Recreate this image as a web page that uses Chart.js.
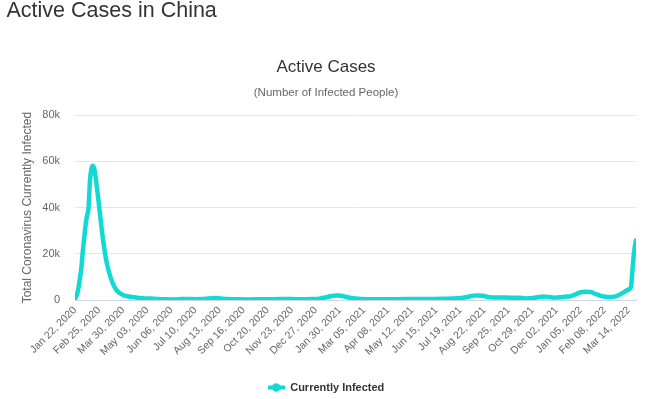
<!DOCTYPE html>
<html>
<head>
<meta charset="utf-8">
<script src="https://cdn.jsdelivr.net/npm/chart.js@4.4.1/dist/chart.umd.min.js"></script>
<style>
  html, body { margin: 0; padding: 0; background: #fff; }
  #page-title {
    position: absolute; left: 6.5px; top: 0;
    margin: 0; font: 400 21.5px/1 'Liberation Sans', Arial, sans-serif;
    color: #333;
  }
  #wrap { position: absolute; left: 0; top: 0; width: 649px; height: 399px; }
</style>
</head>
<body>
<div id="wrap"><canvas id="chart"></canvas></div>
<h1 id="page-title">Active Cases in China</h1>
<script>
// x axis labels, one every 34 days starting Jan 22, 2020
const xTickLabels = [
  'Jan 22, 2020', 'Feb 25, 2020', 'Mar 30, 2020', 'May 03, 2020', 'Jun 06, 2020',
  'Jul 10, 2020', 'Aug 13, 2020', 'Sep 16, 2020', 'Oct 20, 2020', 'Nov 23, 2020',
  'Dec 27, 2020', 'Jan 30, 2021', 'Mar 05, 2021', 'Apr 08, 2021', 'May 12, 2021',
  'Jun 15, 2021', 'Jul 19, 2021', 'Aug 22, 2021', 'Sep 25, 2021', 'Oct 29, 2021',
  'Dec 02, 2021', 'Jan 05, 2022', 'Feb 08, 2022', 'Mar 14, 2022'
];
const tickStep = 34;
const lastDay = 792;

// days since Jan 22, 2020 and active cases
const sampleDays = [
  0, 3, 5, 7, 9, 11, 13, 15, 17, 19, 20, 21, 23, 25, 27, 29, 31, 33, 35, 37,
  39, 41, 43, 46, 50, 54, 58, 63, 68, 74, 80, 88, 95, 105, 115, 125, 140, 150, 160, 170,
  180, 188, 196, 205, 215, 230, 245, 260, 275, 290, 305, 320, 335, 345, 355, 362, 369, 376, 383, 390,
  400, 415, 430, 450, 470, 490, 505, 520, 535, 548, 556, 563, 569, 576, 583, 590, 600, 615, 627, 637,
  647, 655, 662, 669, 676, 686, 694, 700, 707, 714, 721, 728, 735, 742, 749, 756, 763, 770, 777, 782,
  785, 787, 789, 790, 792
];
const activeCases = [
  550, 2500, 5500, 9500, 14000, 21000, 27000, 32500, 36500, 39500, 45000, 51000, 56500, 58100, 57000, 53500, 48500, 43500, 38000, 32500,
  27500, 23000, 19000, 14500, 10000, 6800, 4500, 3000, 2100, 1600, 1300, 1000, 800, 600, 450, 300, 250, 400, 450, 350,
  400, 700, 850, 700, 450, 300, 250, 300, 350, 400, 400, 350, 450, 600, 1200, 1700, 2000, 1800, 1300, 900,
  500, 350, 300, 350, 400, 450, 450, 500, 600, 1000, 1500, 1900, 2000, 1800, 1300, 1100, 1100, 1000, 1000, 700,
  900, 1300, 1500, 1300, 1000, 1200, 1500, 1700, 2500, 3400, 3600, 3500, 2600, 1800, 1400, 1300, 1600, 2500, 3800, 4600,
  5700, 13000, 20000, 22500, 25900
];

const lineColor = '#12d9d4';
const fontFamily = "'Liberation Sans', Arial, sans-serif";

// legend symbol: short thick line with a round marker
const legendIcon = document.createElement('canvas');
legendIcon.width = 17;
legendIcon.height = 9;
const ictx = legendIcon.getContext('2d');
ictx.strokeStyle = lineColor;
ictx.lineWidth = 4;
ictx.beginPath();
ictx.moveTo(0, 4.5);
ictx.lineTo(17, 4.5);
ictx.stroke();
ictx.fillStyle = lineColor;
ictx.beginPath();
ictx.arc(8.5, 4.5, 4.2, 0, Math.PI * 2);
ictx.fill();

Chart.defaults.font.family = fontFamily;

new Chart(document.getElementById('chart'), {
  type: 'line',
  data: {
    datasets: [{
      label: 'Currently Infected',
      data: sampleDays.map((d, i) => ({ x: d, y: activeCases[i] })),
      borderColor: lineColor,
      backgroundColor: lineColor,
      borderWidth: 4.5,
      borderJoinStyle: 'round',
      borderCapStyle: 'round',
      cubicInterpolationMode: 'monotone',
      pointRadius: 0,
      pointHoverRadius: 0,
      pointStyle: legendIcon,
      fill: false,
    }],
  },
  options: {
    responsive: true,
    maintainAspectRatio: false,
    animation: false,
    layout: { padding: { left: 16, right: 13, top: 0, bottom: 5 } },
    plugins: {
      title: {
        display: true,
        text: 'Active Cases',
        color: '#333',
        font: { size: 17, weight: 'normal' },
        padding: { top: 57, bottom: 0 },
      },
      subtitle: {
        display: true,
        text: '(Number of Infected People)',
        color: '#666',
        font: { size: 11.5, weight: 'normal' },
        padding: { top: 9, bottom: 15 },
      },
      legend: {
        position: 'bottom',
        maxHeight: 20,
        labels: {
          usePointStyle: true,
          pointStyleWidth: 17,
          padding: 8,
          color: '#333',
          font: { size: 11, weight: 'bold' },
        },
      },
      tooltip: { enabled: false },
    },
    scales: {
      x: {
        type: 'linear',
        min: 0,
        max: lastDay,
        afterBuildTicks: (scale) => {
          scale.ticks = xTickLabels.map((_, i) => ({ value: i * tickStep }));
        },
        afterFit: (scale) => { scale.height = 74; },
        grid: { display: false, drawTicks: false },
        border: { display: true, color: '#ccd6eb', width: 1 },
        ticks: {
          autoSkip: false,
          minRotation: 45,
          maxRotation: 45,
          padding: 4,
          color: '#666',
          font: { size: 10.5 },
          callback: (value) => xTickLabels[Math.round(value / tickStep)],
        },
      },
      y: {
        min: 0,
        max: 80000,
        afterFit: (scale) => { scale.width = 59; },
        grid: { color: '#e6e6e6', drawTicks: false },
        border: { display: false },
        ticks: {
          stepSize: 20000,
          padding: 15,
          color: '#666',
          font: { size: 11 },
          callback: (v) => (v === 0 ? '0' : v / 1000 + 'k'),
        },
        title: {
          display: true,
          text: 'Total Coronavirus Currently Infected',
          color: '#666',
          font: { size: 12 },
          padding: { top: 4, bottom: 0 },
        },
      },
    },
  },
});
</script>
</body>
</html>
